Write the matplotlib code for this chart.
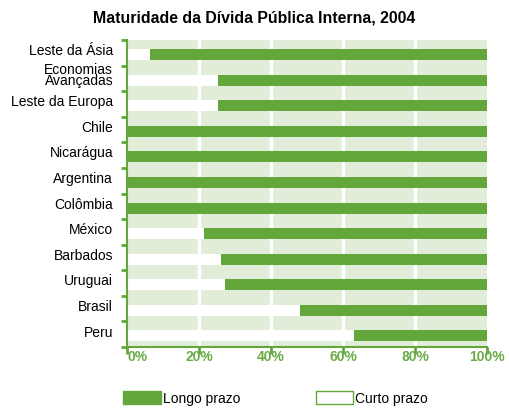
import matplotlib.pyplot as plt
import matplotlib.patches as mpatches
from matplotlib.transforms import ScaledTranslation
import numpy as np

plt.rcParams['font.family'] = ['Liberation Sans', 'DejaVu Sans']

countries = ['Leste da Ásia', 'Economias\nAvançadas', 'Leste da Europa', 'Chile', 'Nicarágua',
             'Argentina', 'Colômbia', 'México', 'Barbados', 'Uruguai', 'Brasil', 'Peru']
curto_prazo = [6.4, 25.3, 25.3, 0, 0, 0, 0, 21.4, 26.1, 27.2, 48.1, 63.1]
longo_prazo = [100 - c for c in curto_prazo]

GREEN = '#63a63c'
BG = '#e1ecd9'
TICK_GREEN = '#6aab48'

fig = plt.figure(figsize=(5.09, 4.14), dpi=100)
ax = fig.add_axes([127 / 509, 1 - 348 / 414, 360 / 509, 307 / 414])
ax.set_facecolor(BG)

y = np.arange(len(countries))
ax.barh(y + 0.07, curto_prazo, height=0.43, color='white', zorder=2)
ax.barh(y + 0.07, longo_prazo, left=curto_prazo, height=0.43, color=GREEN, zorder=2)

ax.set_xlim(0, 100)
ax.set_ylim(len(countries) - 0.5, -0.5)

for gx in [20, 40, 60, 80]:
    ax.axvline(gx, color='white', lw=2.5, zorder=1)

ax.set_xticks([0, 20, 40, 60, 80, 100])
ax.set_xticklabels(['0%', '20%', '40%', '60%', '80%', '100%'], color=TICK_GREEN,
                   fontsize=10, fontweight='bold')
ax.get_xticklabels()[0].set_horizontalalignment('left')
ax.set_yticks(y)
ax.set_yticklabels(countries, fontsize=10, linespacing=0.75)
ax.set_yticks(np.arange(len(countries) + 1) - 0.5, minor=True)
ax.tick_params(axis='y', which='major', length=0, pad=10)
ax.tick_params(axis='y', which='minor', length=4, width=2, color=GREEN)
ax.tick_params(axis='x', length=5, width=2, color=GREEN, pad=-3.5)
for lab in ax.get_yticklabels():
    lab.set_transform(lab.get_transform() + ScaledTranslation(0, 3 / 72, fig.dpi_scale_trans))

for s in ['top', 'right']:
    ax.spines[s].set_visible(False)
for s in ['left', 'bottom']:
    ax.spines[s].set_color(GREEN)
    ax.spines[s].set_linewidth(1.5)

fig.text(0.5, 1 - 18 / 414, 'Maturidade da Dívida Pública Interna, 2004',
         ha='center', va='center', fontsize=11.4, fontweight='bold')

handles = [mpatches.Patch(facecolor=GREEN, edgecolor=GREEN, label='Longo prazo'),
           mpatches.Patch(facecolor='white', edgecolor=GREEN, label='Curto prazo')]
fig.legend(handles=handles, loc='center left', bbox_to_anchor=(123 / 509, 1 - 399 / 414),
           ncol=2, frameon=False, fontsize=10, handlelength=2.7, handleheight=1.15,
           handletextpad=0.15, columnspacing=5.45, borderpad=0, borderaxespad=0)

fig.savefig('out.png', dpi=100)
